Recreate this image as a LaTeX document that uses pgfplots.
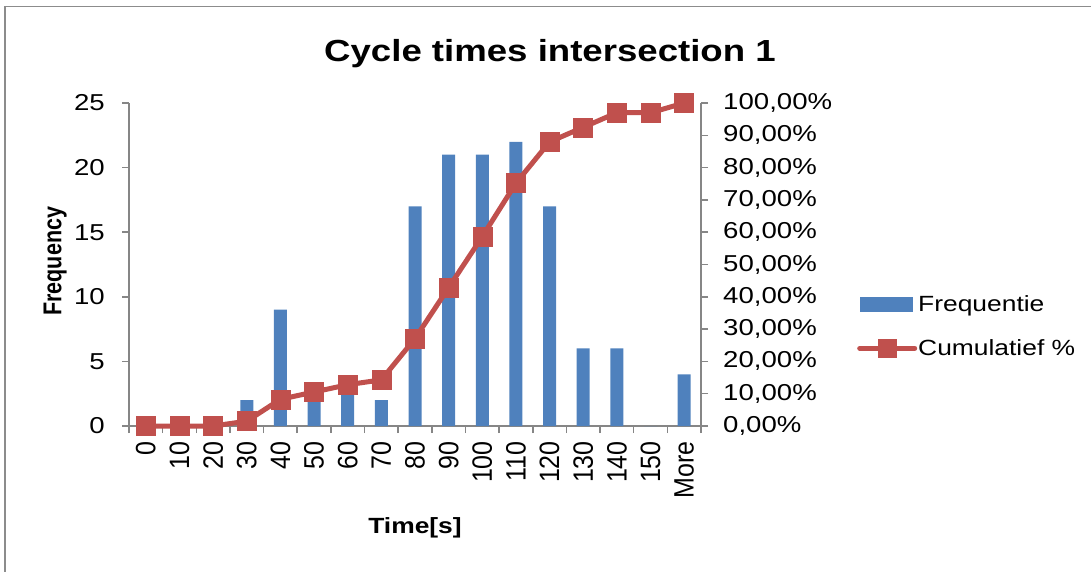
\documentclass[border=0pt]{standalone}
\usepackage{graphicx}
\usepackage{pgfplots}
\pgfplotsset{compat=1.18}
\usepackage{fontspec}
\setmainfont{Liberation Sans}[FakeStretch=1.2]
\newfontfamily\titlefont{Liberation Sans}[FakeStretch=1.2]
\newfontfamily\rotfont{Liberation Sans}
\definecolor{barblue}{HTML}{4F81BD}
\definecolor{linered}{HTML}{C0504D}
\definecolor{axisgray}{HTML}{868686}
\definecolor{bordergray}{HTML}{8C8C8C}
\newcommand{\rl}[1]{\scalebox{1}[1.12]{#1}}
\pgfplotstableread{
x f
0 0
1 0
2 0
3 2
4 9
5 3
6 3
7 2
8 17
9 21
10 21
11 22
12 17
13 6
14 6
15 0
16 4
}\freqdata
\pgfplotstableread{
x c
0 0
1 0
2 0
3 0.0150
4 0.0827
5 0.1053
6 0.1278
7 0.1429
8 0.2707
9 0.4286
10 0.5865
11 0.7519
12 0.8797
13 0.9248
14 0.9699
15 0.9699
16 1.0
}\cumdata
\begin{document}
\begin{tikzpicture}[x=1bp,y=1bp]
\useasboundingbox (0,0) rectangle (1091,-572);
\draw[bordergray, line width=1.5bp] (5,-572) -- (5,-6.5) -- (1091,-6.5);
\node[font=\titlefont\bfseries\fontsize{30.5bp}{34bp}\selectfont, anchor=base] at (550,-62) {Cycle times intersection 1};
\begin{axis}[
  scale only axis, width=572bp, height=323bp,
  at={(129bp,-426bp)}, anchor=south west,
  xmin=-0.5, xmax=16.5, ymin=0, ymax=25,
  clip=false,
  axis x line*=bottom, axis y line*=left,
  axis line style={draw=axisgray, line width=1.5bp},
  tick style={draw=axisgray, line width=1.5bp},
  tick align=outside, major tick length=7bp,
  /pgf/number format/assume math mode=true,
  xtick={-0.5,0.5,...,16.5}, xticklabels={},
  extra x ticks={0,1,...,16},
  extra x tick labels={\rl{0},\rl{10},\rl{20},\rl{30},\rl{40},\rl{50},\rl{60},\rl{70},\rl{80},\rl{90},\rl{100},\rl{110},\rl{120},\rl{130},\rl{140},\rl{150},\rl{More}},
  extra x tick style={major tick length=0pt},
  xticklabel style={rotate=90, anchor=east, inner sep=0pt, font=\rotfont\fontsize{25bp}{29bp}\selectfont},
  xticklabel shift=15bp,
  ytick={0,5,10,15,20,25}, yticklabels={0,5,10,15,20,25},
  yticklabel style={inner sep=0pt, font=\fontsize{23bp}{27bp}\selectfont},
  yticklabel shift=17bp,
  xlabel={Time[s]},
  xlabel style={at={(axis description cs:0.5,-0.316)}, anchor=center, font=\bfseries\fontsize{22bp}{26bp}\selectfont},
  ylabel={\scalebox{1}[1.2]{Frequency}},
  ylabel style={at={(axis description cs:-0.129,0.51)}, anchor=center, font=\rotfont\bfseries\fontsize{21.5bp}{25bp}\selectfont},
]
\addplot[ybar, bar width=13bp, bar shift=0pt, fill=barblue, draw=none] table[x=x, y=f] {\freqdata};
\end{axis}
\begin{axis}[
  scale only axis, width=572bp, height=323bp,
  at={(129bp,-426bp)}, anchor=south west,
  xmin=-0.5, xmax=16.5, ymin=0, ymax=1,
  clip=false,
  axis x line=none, axis y line*=right,
  axis line style={draw=axisgray, line width=1.5bp},
  tick style={draw=axisgray, line width=1.5bp},
  tick align=outside, major tick length=7bp,
  /pgf/number format/assume math mode=true,
  ytick={0,0.1,0.2,0.3,0.4,0.5,0.6,0.7,0.8,0.9,1},
  yticklabels={{0,00\%},{10,00\%},{20,00\%},{30,00\%},{40,00\%},{50,00\%},{60,00\%},{70,00\%},{80,00\%},{90,00\%},{100,00\%}},
  yticklabel style={inner sep=0pt, font=\fontsize{23bp}{27bp}\selectfont},
  yticklabel shift=15bp,
  legend style={at={(1.2727,0.308)}, anchor=west, draw=none, fill=none, inner sep=0pt,
    row sep=26bp, nodes={inner sep=0pt}, font=\fontsize{22bp}{26bp}\selectfont,
    /tikz/every odd column/.style={column sep=1bp}},
  legend cell align=left,
]
\addlegendimage{legend image code/.code={\fill[barblue] (0bp,-7bp) rectangle (52bp,7bp);}}
\addlegendentry{Frequentie}
\addplot[color=linered, line width=5bp, mark=square*, mark size=9.5bp, mark options={fill=linered, draw=linered, line width=0.5bp},
  legend image code/.code={\draw[linered, line width=5bp, line cap=round] (0bp,0bp) -- (55bp,0bp); \fill[linered] (20.5bp,-7bp) rectangle (34.5bp,7bp);}]
  table[x=x, y=c] {\cumdata};
\addlegendentry{Cumulatief \%}
\end{axis}
\end{tikzpicture}
\end{document}
